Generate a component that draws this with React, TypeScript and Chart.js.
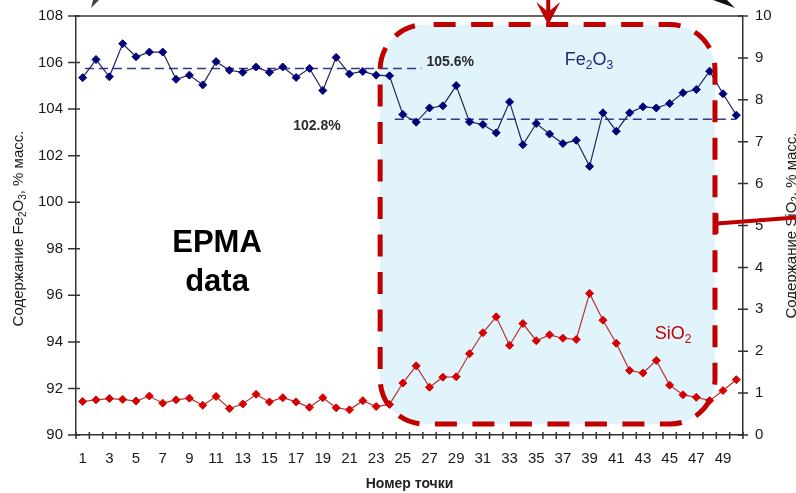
import React, { useEffect, useRef } from "react";
import { Chart, registerables } from "chart.js";

Chart.register(...registerables);

// ---------------- data ----------------
const pointNumbers = [
  "1", "2", "3", "4", "5", "6", "7", "8", "9", "10",
  "11", "12", "13", "14", "15", "16", "17", "18", "19", "20",
  "21", "22", "23", "24", "25", "26", "27", "28", "29", "30",
  "31", "32", "33", "34", "35", "36", "37", "38", "39", "40",
  "41", "42", "43", "44", "45", "46", "47", "48", "49", "50",
];

const fe2o3Values = [
  105.35, 106.13, 105.39, 106.81, 106.25, 106.45, 106.45, 105.28, 105.46, 105.04,
  106.04, 105.67, 105.58, 105.81, 105.58, 105.81, 105.36, 105.75, 104.8, 106.22,
  105.51, 105.62, 105.46, 105.43, 103.77, 103.44, 104.05, 104.14, 105.01, 103.45,
  103.34, 102.98, 104.31, 102.47, 103.38, 102.93, 102.52, 102.66, 101.54, 103.84,
  103.05, 103.84, 104.1, 104.05, 104.24, 104.7, 104.84, 105.63, 104.66, 103.74,
];

const sio2Values = [
  0.8, 0.84, 0.87, 0.85, 0.81, 0.93, 0.76, 0.84, 0.88, 0.71,
  0.92, 0.63, 0.74, 0.97, 0.79, 0.89, 0.79, 0.66, 0.89, 0.65,
  0.6, 0.82, 0.68, 0.73, 1.24, 1.65, 1.14, 1.38, 1.39, 1.94,
  2.44, 2.82, 2.14, 2.66, 2.25, 2.39, 2.31, 2.28, 3.38, 2.74,
  2.19, 1.54, 1.48, 1.78, 1.19, 0.96, 0.9, 0.82, 1.06, 1.32,
];

// mean (reference) lines for Fe2O3: level, start index, end index (0-based point index)
const refLineLevels = [105.75, 103.56];
const refLineStarts = [0.17, 23.4];
const refLineEnds = [25.4, 49.0];
const refLineLabels = ["105.6%", "102.8%"];

// axis ranges
const feAxisMin = 90;
const feAxisMax = 108;
const feAxisStep = 2;
const siAxisMin = 0;
const siAxisMax = 10;
const siAxisStep = 1;

// ---------------- styles / layout ----------------
const FONT = "'Liberation Sans', Arial, Helvetica, sans-serif";
const FE_LINE = "#26265E";
const FE_MARK = "#00007A";
const SI_LINE = "#B83232";
const SI_MARK = "#D60000";
const REF_LINE = "#2E3B8C";
const RED = "#C00000";
const AXIS = "#333333";
const TEXT = "#1A1A1A";
const HL_FILL = "#E1F3FB";

// highlighted region (in data units: x = point index, y = Fe2O3 axis)
const highlight = { x0: 22.3, x1: 47.4, yTop: 107.63, yBottom: 90.47, radius: 45 };

// annotation placements (data units: x = point index, y on named axis; baseline)
const notes = {
  epma: { x: 10.07, y1: 97.87, y2: 96.19 },
  ref1: { x: 27.55, y: 105.87 },
  ref2: { x: 17.56, y: 103.1 },
  fe: { x: 37.95, y: 105.88 },
  si: { x: 44.25, y: 2.29 },
};

type Part = [string, boolean];

function drawChem(ctx: CanvasRenderingContext2D, parts: Part[], cx: number, baseY: number, size: number, color: string, weight = "normal") {
  const subSize = Math.round(size * 0.66);
  let total = 0;
  const widths: number[] = [];
  for (const [t, sub] of parts) {
    ctx.font = `${weight} ${sub ? subSize : size}px ${FONT}`;
    const w = ctx.measureText(t).width;
    widths.push(w);
    total += w;
  }
  let x = cx - total / 2;
  ctx.fillStyle = color;
  ctx.textAlign = "left";
  ctx.textBaseline = "alphabetic";
  parts.forEach(([t, sub], i) => {
    ctx.font = `${weight} ${sub ? subSize : size}px ${FONT}`;
    ctx.fillText(t, x, sub ? baseY + size * 0.22 : baseY);
    x += widths[i];
  });
}

function roundRectPath(ctx: CanvasRenderingContext2D, x: number, y: number, w: number, h: number, r: number) {
  ctx.beginPath();
  ctx.moveTo(x + r, y);
  ctx.lineTo(x + w - r, y);
  ctx.arcTo(x + w, y, x + w, y + r, r);
  ctx.lineTo(x + w, y + h - r);
  ctx.arcTo(x + w, y + h, x + w - r, y + h, r);
  ctx.lineTo(x + r, y + h);
  ctx.arcTo(x, y + h, x, y + h - r, r);
  ctx.lineTo(x, y + r);
  ctx.arcTo(x, y, x + r, y, r);
  ctx.closePath();
}

function hlBox(chart: any) {
  const xr = chart.scales.xr;
  const y = chart.scales.y;
  const l = xr.getPixelForValue(highlight.x0);
  const r = xr.getPixelForValue(highlight.x1);
  const t = y.getPixelForValue(highlight.yTop);
  const b = y.getPixelForValue(highlight.yBottom);
  return { x: l, y: t, w: r - l, h: b - t };
}

const decorPlugin = {
  id: "decor",
  beforeDatasetsDraw(chart: any) {
    const ctx: CanvasRenderingContext2D = chart.ctx;
    const b = hlBox(chart);
    ctx.save();
    ctx.fillStyle = HL_FILL;
    roundRectPath(ctx, b.x, b.y, b.w, b.h, highlight.radius);
    ctx.fill();
    ctx.restore();
  },
  afterDatasetsDraw(chart: any) {
    const ctx: CanvasRenderingContext2D = chart.ctx;
    const b = hlBox(chart);
    ctx.save();
    ctx.strokeStyle = RED;
    ctx.lineWidth = 5;
    ctx.setLineDash([22, 15.5]);
    ctx.lineDashOffset = 29;
    roundRectPath(ctx, b.x, b.y, b.w, b.h, highlight.radius);
    ctx.stroke();
    ctx.restore();
  },
  afterDraw(chart: any) {
    const ctx: CanvasRenderingContext2D = chart.ctx;
    const { left, right, top, bottom } = chart.chartArea;
    const xr = chart.scales.xr;
    const y = chart.scales.y;
    const y2 = chart.scales.y2;
    ctx.save();

    // top frame line
    ctx.strokeStyle = AXIS;
    ctx.lineWidth = 1.5;
    ctx.beginPath();
    ctx.moveTo(left, top);
    ctx.lineTo(right, top);
    ctx.stroke();

    // tick marks crossing the axes
    ctx.lineWidth = 1.5;
    ctx.beginPath();
    for (let v = feAxisMin; v <= feAxisMax; v += feAxisStep) {
      const py = y.getPixelForValue(v);
      ctx.moveTo(left - 8, py);
      ctx.lineTo(left + 4, py);
    }
    for (let v = siAxisMin; v <= siAxisMax; v += siAxisStep) {
      const py = y2.getPixelForValue(v);
      ctx.moveTo(right - 5, py);
      ctx.lineTo(right + 5, py);
    }
    for (let k = 0; k <= pointNumbers.length; k++) {
      const px = xr.getPixelForValue(k - 0.5);
      ctx.moveTo(px, bottom - 3);
      ctx.lineTo(px, bottom + 4);
    }
    ctx.stroke();

    // left axis title
    ctx.save();
    ctx.translate(18, (top + bottom) / 2 + 3);
    ctx.rotate(-Math.PI / 2);
    drawChem(ctx, [["Содержание Fe", false], ["2", true], ["O", false], ["3", true], [", % масс.", false]], 0, 5, 15, TEXT);
    ctx.restore();

    // right axis title
    ctx.save();
    ctx.translate(791, (top + bottom) / 2);
    ctx.rotate(-Math.PI / 2);
    drawChem(ctx, [["Содержание SiO", false], ["2", true], [", % масс.", false]], 0, 5, 15, TEXT);
    ctx.restore();

    // EPMA data
    ctx.fillStyle = "#000000";
    ctx.font = `bold 31px ${FONT}`;
    ctx.textAlign = "center";
    ctx.textBaseline = "alphabetic";
    ctx.fillText("EPMA", xr.getPixelForValue(notes.epma.x), y.getPixelForValue(notes.epma.y1));
    ctx.fillText("data", xr.getPixelForValue(notes.epma.x), y.getPixelForValue(notes.epma.y2));

    // reference values
    ctx.fillStyle = "#2B2B2B";
    ctx.font = `bold 14px ${FONT}`;
    ctx.fillText(refLineLabels[0], xr.getPixelForValue(notes.ref1.x), y.getPixelForValue(notes.ref1.y));
    ctx.fillText(refLineLabels[1], xr.getPixelForValue(notes.ref2.x), y.getPixelForValue(notes.ref2.y));

    // series labels
    drawChem(ctx, [["Fe", false], ["2", true], ["O", false], ["3", true]], xr.getPixelForValue(notes.fe.x), y.getPixelForValue(notes.fe.y), 18, "#1F2A7A");
    drawChem(ctx, [["SiO", false], ["2", true]], xr.getPixelForValue(notes.si.x), y2.getPixelForValue(notes.si.y), 18, RED);

    // red arrow at top
    const ax = xr.getPixelForValue(34.9);
    ctx.fillStyle = RED;
    ctx.fillRect(ax - 2, 0, 4, 18);
    ctx.beginPath();
    ctx.moveTo(ax, 25);
    ctx.lineTo(ax - 12, 2);
    ctx.lineTo(ax, 12);
    ctx.lineTo(ax + 12, 2);
    ctx.closePath();
    ctx.fill();

    // red connector line on right
    const hb = hlBox(chart);
    const cx0 = hb.x + hb.w + 2;
    const cy0 = y2.getPixelForValue(5.05);
    ctx.strokeStyle = RED;
    ctx.lineWidth = 4;
    ctx.beginPath();
    ctx.moveTo(cx0, cy0);
    ctx.lineTo(chart.width, cy0 - 6);
    ctx.stroke();
    ctx.lineWidth = 3;
    ctx.beginPath();
    ctx.moveTo(cx0, cy0 - 10);
    ctx.lineTo(cx0, cy0 + 10);
    ctx.stroke();

    // partial black arrow tips at top
    ctx.fillStyle = "#444444";
    ctx.beginPath();
    ctx.moveTo(91, 8);
    ctx.lineTo(93, 0);
    ctx.lineTo(99, 0);
    ctx.closePath();
    ctx.fill();
    ctx.fillStyle = "#111111";
    ctx.beginPath();
    ctx.moveTo(735, 8);
    ctx.lineTo(713, 0);
    ctx.lineTo(727, 0);
    ctx.closePath();
    ctx.fill();

    ctx.restore();
  },
};

export default function App() {
  const canvasRef = useRef<HTMLCanvasElement | null>(null);

  useEffect(() => {
    const canvas = canvasRef.current;
    if (!canvas) return;
    const tickFont = { family: FONT, size: 15 };

    const refDatasets = refLineLevels.map((lvl, i) => ({
      type: "line" as const,
      label: refLineLabels[i],
      data: [
        { x: refLineStarts[i], y: lvl },
        { x: refLineEnds[i], y: lvl },
      ],
      xAxisID: "xr",
      yAxisID: "y",
      borderColor: REF_LINE,
      borderWidth: 1.5,
      borderDash: [9, 5],
      pointRadius: 0,
      order: 3,
    }));

    const chart = new Chart(canvas, {
      type: "line",
      data: {
        labels: pointNumbers,
        datasets: [
          {
            label: "Fe2O3",
            data: fe2o3Values,
            xAxisID: "x",
            yAxisID: "y",
            borderColor: FE_LINE,
            borderWidth: 1.2,
            pointStyle: "rectRot",
            pointRadius: 4,
            pointBackgroundColor: FE_MARK,
            pointBorderColor: FE_MARK,
            pointBorderWidth: 1,
            tension: 0,
            order: 1,
          },
          {
            label: "SiO2",
            data: sio2Values,
            xAxisID: "x",
            yAxisID: "y2",
            borderColor: SI_LINE,
            borderWidth: 1.2,
            pointStyle: "rectRot",
            pointRadius: 4,
            pointBackgroundColor: SI_MARK,
            pointBorderColor: SI_MARK,
            pointBorderWidth: 1,
            tension: 0,
            order: 2,
          },
          ...refDatasets,
        ] as any,
      },
      options: {
        responsive: false,
        animation: false,
        events: [],
        layout: { padding: { top: 16, left: 0, right: 0, bottom: 0 } },
        plugins: {
          legend: { display: false },
          tooltip: { enabled: false },
          title: { display: false },
        },
        scales: {
          x: {
            type: "category",
            position: "bottom",
            offset: true,
            grid: { display: false, offset: true },
            border: { display: true, color: AXIS, width: 1.5 },
            ticks: {
              autoSkip: false,
              maxRotation: 0,
              minRotation: 0,
              padding: 7,
              color: TEXT,
              font: tickFont,
              callback: (_v: any, i: number) => (i % 2 === 0 ? pointNumbers[i] : ""),
            },
            title: {
              display: true,
              text: "Номер точки",
              color: "#222222",
              font: { family: FONT, size: 14, weight: "bold" },
              padding: { top: 0, bottom: 0 },
            },
            afterFit: (s: any) => {
              s.height = 58;
            },
          },
          xr: {
            type: "linear",
            display: false,
            min: -0.5,
            max: 49.5,
          },
          y: {
            type: "linear",
            position: "left",
            min: feAxisMin,
            max: feAxisMax,
            grid: { display: false },
            border: { display: true, color: AXIS, width: 1.5 },
            ticks: { stepSize: feAxisStep, padding: 5, color: TEXT, font: tickFont },
            afterFit: (s: any) => {
              s.width = 76;
            },
          },
          y2: {
            type: "linear",
            position: "right",
            min: siAxisMin,
            max: siAxisMax,
            grid: { display: false },
            border: { display: true, color: AXIS, width: 1.5 },
            ticks: { stepSize: siAxisStep, padding: 4, color: TEXT, font: tickFont },
            afterFit: (s: any) => {
              s.width = 53;
            },
          },
        },
      } as any,
      plugins: [decorPlugin],
    });

    return () => chart.destroy();
  }, []);

  return (
    <div style={{ position: "absolute", left: 0, top: 0, width: 796, height: 493, background: "#ffffff" }}>
      <canvas ref={canvasRef} width={796} height={493} style={{ display: "block", width: 796, height: 493 }} />
    </div>
  );
}
